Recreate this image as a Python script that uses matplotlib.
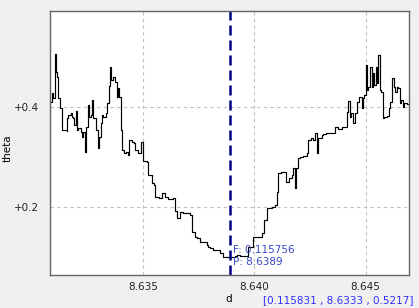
import numpy as np
import matplotlib
matplotlib.use("Agg")
import matplotlib.pyplot as plt

# traced curve (d, theta), drawn as steps
d = [8.63087, 8.63091, 8.63096, 8.63103, 8.63107, 8.63115, 8.63120, 8.63127,
     8.63137, 8.63138, 8.63157, 8.63159, 8.63164, 8.63175, 8.63180, 8.63184,
     8.63190, 8.63199, 8.63204, 8.63209, 8.63220, 8.63225, 8.63232, 8.63238,
     8.63244, 8.63252, 8.63259, 8.63265, 8.63271, 8.63277, 8.63289, 8.63297,
     8.63302, 8.63310, 8.63314, 8.63322, 8.63334, 8.63340, 8.63346, 8.63353,
     8.63356, 8.63367, 8.63374, 8.63382, 8.63389, 8.63394, 8.63400, 8.63406,
     8.63415, 8.63424, 8.63431, 8.63438, 8.63449, 8.63460, 8.63464, 8.63479,
     8.63491, 8.63499, 8.63501, 8.63517, 8.63524, 8.63539, 8.63549, 8.63554,
     8.63573, 8.63584, 8.63599, 8.63614, 8.63636, 8.63644, 8.63654, 8.63666,
     8.63678, 8.63711, 8.63719, 8.63734, 8.63741, 8.63756, 8.63764, 8.63786,
     8.63793, 8.63801, 8.63816, 8.63846, 8.63861, 8.63891, 8.63913, 8.63921,
     8.63936, 8.63973, 8.63995, 8.64003, 8.64033, 8.64045, 8.64056, 8.64078,
     8.64093, 8.64101, 8.64108, 8.64120, 8.64135, 8.64141, 8.64156, 8.64168,
     8.64175, 8.64183, 8.64186, 8.64195, 8.64205, 8.64220, 8.64235, 8.64243,
     8.64255, 8.64265, 8.64273, 8.64280, 8.64287, 8.64303, 8.64310, 8.64322,
     8.64363, 8.64366, 8.64377, 8.64393, 8.64415, 8.64422, 8.64430, 8.64434,
     8.64445, 8.64452, 8.64460, 8.64472, 8.64482, 8.64490, 8.64494, 8.64502,
     8.64508, 8.64512, 8.64520, 8.64527, 8.64532, 8.64539, 8.64545, 8.64553,
     8.64557, 8.64565, 8.64569, 8.64577, 8.64583, 8.64595, 8.64606, 8.64610,
     8.64619, 8.64628, 8.64633, 8.64640, 8.64647, 8.64654, 8.64659, 8.64667,
     8.64674, 8.64685, 8.64692]
theta = [0.4106, 0.4279, 0.4180, 0.5057, 0.4698, 0.4604, 0.4173, 0.3974,
         0.3940, 0.3541, 0.3527, 0.3775, 0.3840, 0.3874, 0.3807, 0.3781,
         0.3641, 0.3920, 0.3541, 0.3575, 0.3507, 0.3408, 0.3507, 0.3109,
         0.3607, 0.4040, 0.3807, 0.3840, 0.4140, 0.3775, 0.3541, 0.3176,
         0.3408, 0.3675, 0.3840, 0.3807, 0.3874, 0.4074, 0.4419, 0.4792,
         0.4538, 0.4604, 0.4504, 0.4205, 0.4373, 0.4205, 0.3541, 0.3143,
         0.3077, 0.3109, 0.3043, 0.3342, 0.3308, 0.3276, 0.3143, 0.3077,
         0.3308, 0.2943, 0.2929, 0.2909, 0.2644, 0.2479, 0.2445, 0.2211,
         0.2179, 0.2279, 0.2211, 0.2160, 0.2179, 0.1926, 0.1793, 0.1912,
         0.1880, 0.1846, 0.1513, 0.1402, 0.1382, 0.1314, 0.1300, 0.1248,
         0.1214, 0.1182, 0.1149, 0.1083, 0.1015, 0.1003, 0.1029, 0.1049,
         0.1029, 0.1202, 0.1414, 0.1414, 0.1482, 0.1747, 0.1980, 0.2012,
         0.2046, 0.2311, 0.2678, 0.2710, 0.2698, 0.2510, 0.2578, 0.2640,
         0.2778, 0.2379, 0.2778, 0.2977, 0.3009, 0.3023, 0.3077, 0.3342,
         0.3376, 0.3342, 0.3476, 0.3089, 0.3376, 0.3442, 0.3462, 0.3476,
         0.3607, 0.3607, 0.3555, 0.3595, 0.3906, 0.4120, 0.3807, 0.3874,
         0.3675, 0.3874, 0.4106, 0.4193, 0.3974, 0.4173, 0.4239, 0.4837,
         0.4339, 0.4405, 0.4804, 0.4405, 0.4672, 0.4439, 0.4804, 0.4473,
         0.5037, 0.4339, 0.4305, 0.3775, 0.3807, 0.3821, 0.3974, 0.4106,
         0.4572, 0.4405, 0.4305, 0.4405, 0.4373, 0.4074, 0.4140, 0.4006,
         0.4074, 0.4060, 0.4060]

cursor_d = 8.6389
xticks = [8.635, 8.640, 8.645]
yticks = [0.2, 0.4]
ytick_labels = ["+0.2", "+0.4"]

fig = plt.figure(figsize=(4.19, 3.08), dpi=100, facecolor="#f0f0f0")
ax = fig.add_axes([50 / 419, 33 / 308, 359 / 419, 264 / 308])
ax.set_facecolor("white")

ax.plot(d, theta, color="black", lw=0.85, drawstyle="steps-post")
ax.axvline(cursor_d, color="#000080", lw=1.8, linestyle=(0, (4, 2)))

ax.set_xlim(8.63082, 8.64695)
ax.set_ylim(0.065, 0.5914)
ax.set_xticks(xticks)
ax.set_xticklabels(["%.3f" % v for v in xticks])
ax.set_yticks(yticks)
ax.set_yticklabels(ytick_labels)
ax.tick_params(axis="x", length=0, labelsize=7.5, colors="#222222", pad=5)
ax.tick_params(axis="y", length=0, labelsize=7.5, colors="#222222", pad=8)
ax.grid(True, color="#c0c0c0", linestyle=(0, (3, 3)), lw=0.8)
for s in ax.spines.values():
    s.set_color("#646464")
    s.set_linewidth(1.0)

ax.set_xlabel("d", fontsize=7.5)
ax.xaxis.set_label_coords(0.497, -0.072)
ax.set_ylabel("theta", fontsize=7.5)
ax.yaxis.set_label_coords(-0.117, 0.48)
ax.yaxis.label.set_va("center")

fig.text(233 / 419, 1 - 250 / 308, "F: 0.115756", color="#3848c8",
         fontsize=7.5, va="center", ha="left")
fig.text(233 / 419, 1 - 262 / 308, "P: 8.6389", color="#3848c8",
         fontsize=7.5, va="center", ha="left")
fig.text(413 / 419, 1 - 300 / 308, "[0.115831 , 8.6333 , 0.5217]",
         color="#3030ff", fontsize=7.5, va="center", ha="right")

fig.savefig("out.png", dpi=100, facecolor=fig.get_facecolor())
